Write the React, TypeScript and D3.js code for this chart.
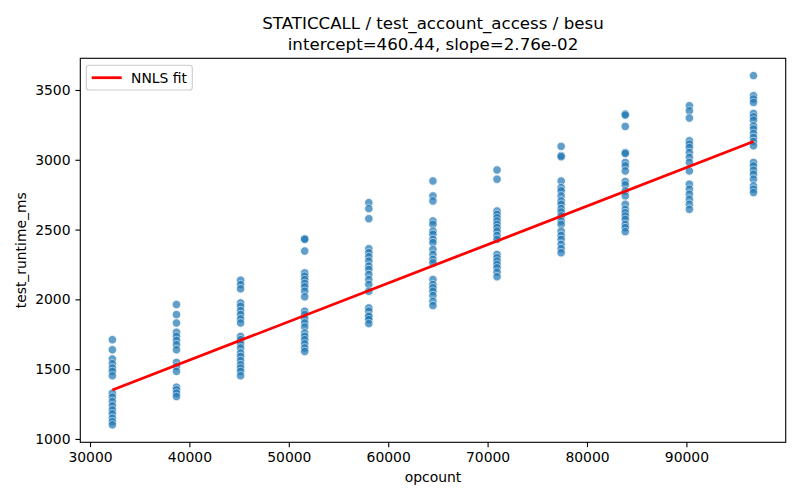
import { useRef, useEffect } from "react";
import * as d3 from "d3";

// opcount levels (x) and the runtimes measured at each one
const opcounts = [32250, 38700, 45150, 51600, 58050, 64500, 70950, 77400, 83850, 90300, 96750];

const run32k = [1711, 1639, 1573, 1539, 1508, 1484, 1453, 1328, 1300, 1268, 1237, 1208, 1180, 1149, 1124, 1101];
const run38k = [1963, 1891, 1831, 1764, 1735, 1706, 1675, 1639, 1548, 1519, 1484, 1371, 1352, 1328, 1304];
const run45k = [2137, 2106, 2075, 1975, 1950, 1920, 1891, 1860, 1831, 1735, 1711, 1682, 1652, 1616, 1591, 1562, 1532, 1508, 1484, 1453];
const run51k = [2435, 2430, 2346, 2190, 2166, 2142, 2114, 2090, 2058, 2018, 1915, 1891, 1860, 1831, 1802, 1759, 1735, 1711, 1682, 1652, 1627];
const run58k = [2693, 2650, 2578, 2363, 2334, 2305, 2274, 2238, 2214, 2178, 2142, 2106, 2058, 1939, 1915, 1884, 1876, 1855, 1826];
const run64k = [2848, 2741, 2705, 2561, 2537, 2489, 2466, 2430, 2406, 2358, 2322, 2286, 2262, 2142, 2106, 2083, 2058, 2027, 1986, 1955];
const run70k = [2927, 2861, 2633, 2609, 2585, 2561, 2537, 2514, 2489, 2458, 2430, 2322, 2298, 2274, 2250, 2226, 2195, 2162];
const run77k = [3096, 3030, 3022, 2848, 2801, 2777, 2741, 2705, 2681, 2650, 2626, 2597, 2561, 2537, 2489, 2458, 2430, 2394, 2363, 2334];
const run83k = [3328, 3320, 3239, 3052, 3045, 2981, 2956, 2920, 2844, 2820, 2777, 2741, 2681, 2645, 2621, 2597, 2573, 2537, 2514, 2485];
const run90k = [3387, 3351, 3299, 3136, 3112, 3088, 3052, 3017, 2981, 2920, 2825, 2789, 2753, 2717, 2681, 2645];
const run96k = [3603, 3459, 3435, 3411, 3332, 3308, 3284, 3243, 3220, 3189, 3160, 3131, 3100, 2981, 2956, 2925, 2897, 2861, 2813, 2789, 2765];

const runtimes = [run32k, run38k, run45k, run51k, run58k, run64k, run70k, run77k, run83k, run90k, run96k];

const xTicks = [30000, 40000, 50000, 60000, 70000, 80000, 90000];
const yTicks = [1000, 1500, 2000, 2500, 3000, 3500];

const intercept = 460.44;
const slope = 0.0276;

const App = () => {
  const svgRef = useRef<SVGSVGElement>(null);

  useEffect(() => {
    const width = 800;
    const height = 500;
    const m = { left: 80.3, right: 785.7, top: 58.3, bottom: 442.3 };
    const font = "DejaVu Sans, sans-serif";

    const svg = d3.select(svgRef.current);
    svg.selectAll("*").remove();
    svg.attr("viewBox", [0, 0, width, height].join(" ")).style("font-family", font);

    svg.append("rect").attr("width", width).attr("height", height).attr("fill", "#fff");

    const x = d3.scaleLinear().domain([29024, 99990]).range([m.left, m.right]);
    const y = d3.scaleLinear().domain([976, 3727]).range([m.bottom, m.top]);

    // points
    const points = opcounts.flatMap((o, i) => runtimes[i].map((v) => ({ o, v })));
    svg
      .append("g")
      .selectAll("circle")
      .data(points)
      .join("circle")
      .attr("cx", (d) => x(d.o))
      .attr("cy", (d) => y(d.v))
      .attr("r", 4.2)
      .attr("fill", "#1f77b4")
      .attr("stroke", "#fff")
      .attr("stroke-width", 0.7)
      .attr("opacity", 0.7);

    // fit line
    const fitX = d3.extent(opcounts) as [number, number];
    const line = d3
      .line<number>()
      .x((d) => x(d))
      .y((d) => y(intercept + slope * d));
    svg
      .append("path")
      .attr("d", line(fitX))
      .attr("fill", "none")
      .attr("stroke", "red")
      .attr("stroke-width", 2.78);

    // frame
    svg
      .append("rect")
      .attr("x", m.left)
      .attr("y", m.top)
      .attr("width", m.right - m.left)
      .attr("height", m.bottom - m.top)
      .attr("fill", "none")
      .attr("stroke", "#000")
      .attr("stroke-width", 1.1);

    // axes
    const xAxis = svg
      .append("g")
      .attr("transform", `translate(0,${m.bottom})`)
      .call(d3.axisBottom(x).tickValues(xTicks).tickSize(4.86).tickPadding(4.9).tickFormat(d3.format("d")));
    const yAxis = svg
      .append("g")
      .attr("transform", `translate(${m.left},0)`)
      .call(d3.axisLeft(y).tickValues(yTicks).tickSize(4.86).tickPadding(4.9).tickFormat(d3.format("d")));
    [xAxis, yAxis].forEach((g) => {
      g.select(".domain").remove();
      g.selectAll("line").attr("stroke", "#000").attr("stroke-width", 1.1);
      g.selectAll("text").attr("fill", "#000").style("font-size", "13.9px").style("font-family", font);
    });

    // labels
    svg
      .append("text")
      .attr("x", (m.left + m.right) / 2)
      .attr("y", 481.5)
      .attr("text-anchor", "middle")
      .style("font-size", "13.9px")
      .text("opcount");
    svg
      .append("text")
      .attr("transform", `translate(26,${(m.top + m.bottom) / 2}) rotate(-90)`)
      .attr("text-anchor", "middle")
      .style("font-size", "13.9px")
      .text("test_runtime_ms");

    const title = svg
      .append("text")
      .attr("text-anchor", "middle")
      .style("font-size", "16.67px");
    title.append("tspan").attr("x", (m.left + m.right) / 2).attr("y", 29).text("STATICCALL / test_account_access / besu");
    title.append("tspan").attr("x", (m.left + m.right) / 2).attr("y", 50).text(`intercept=${intercept.toFixed(2)}, slope=2.76e-02`);

    // legend
    const lg = svg.append("g");
    lg.append("rect")
      .attr("x", 86.3)
      .attr("y", 65.3)
      .attr("width", 106)
      .attr("height", 24.7)
      .attr("rx", 2.8)
      .attr("fill", "#fff")
      .attr("fill-opacity", 0.8)
      .attr("stroke", "#cccccc")
      .attr("stroke-width", 1.1);
    lg.append("line")
      .attr("x1", 91.7)
      .attr("x2", 121.7)
      .attr("y1", 77.7)
      .attr("y2", 77.7)
      .attr("stroke", "red")
      .attr("stroke-width", 2.78);
    lg.append("text")
      .attr("x", 131)
      .attr("y", 82.5)
      .style("font-size", "13.9px")
      .text("NNLS fit");

    return () => {
      svg.selectAll("*").remove();
    };
  }, []);

  return (
    <svg
      ref={svgRef}
      width={800}
      height={500}
      style={{ position: "absolute", left: 0, top: 0, display: "block" }}
    ></svg>
  );
};

export default App;
